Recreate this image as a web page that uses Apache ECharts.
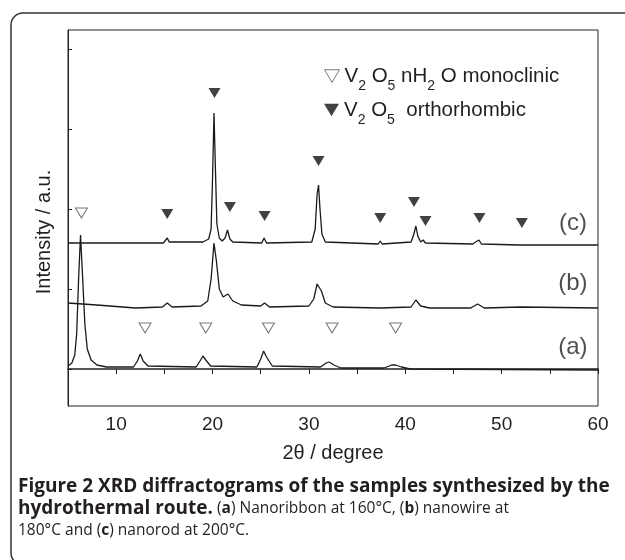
<!DOCTYPE html>
<html>
<head>
<meta charset="utf-8">
<script src="https://cdn.jsdelivr.net/npm/echarts@6.0.0/dist/echarts.min.js"></script>
<style>
  html, body { margin: 0; padding: 0; background: #fff; }
  #chart { width: 625px; height: 560px; }
</style>
</head>
<body>
<div id="chart"></div>
<script>
// XRD patterns, 2θ in degree, intensity in a.u. (each sample already stacked)
const xTickLabels = [10, 20, 30, 40, 50, 60];
const yTicks = [0, 80, 160, 240, 320];

// (c) nanorod 200°C
const cTheta = [5, 14.9, 15.1, 15.3, 15.5, 15.7, 19.0, 19.6, 19.85, 20.0, 20.15, 20.3, 20.45, 20.7, 21.0, 21.3, 21.55, 21.8, 22.1, 25.1, 25.35, 25.6, 30.3, 30.65, 30.85, 31.0, 31.15, 31.35, 31.7, 37.2, 37.4, 37.6, 40.6, 40.9, 41.1, 41.3, 41.6, 41.85, 42.1, 47.0, 47.3, 47.45, 47.65, 47.9, 51.9, 52.1, 52.3, 60];
const cInt = [126, 126, 127, 131, 127, 126, 127, 130, 140, 190, 256, 200, 145, 131, 128, 131, 139, 130, 127, 126, 131, 126, 127, 140, 175, 184, 160, 135, 127, 125, 128, 125, 127, 135, 143, 133, 127, 129, 126, 125, 127, 126, 129, 125, 124, 126, 124, 124];

// (b) nanowire 180°C
const bTheta = [5, 8, 12, 14.8, 15.3, 15.8, 18.8, 19.5, 19.85, 20.15, 20.4, 20.7, 21.1, 21.6, 22.1, 23, 25.0, 25.4, 25.9, 30.0, 30.5, 30.85, 31.05, 31.3, 31.7, 32.5, 37.4, 40.6, 41.1, 41.6, 42.5, 46.8, 47.5, 48.2, 52.0, 60];
const bInt = [66, 64, 61, 62, 66, 62, 63, 68, 90, 126, 108, 80, 72, 75, 68, 64, 63, 66, 62, 63, 70, 85, 87, 78, 66, 62, 61, 62, 69, 63, 61, 61, 65, 61, 62, 61];

// (a) nanoribbon 160°C
const aTheta = [5, 5.4, 5.7, 5.9, 6.1, 6.3, 6.5, 6.75, 7.0, 7.4, 8.0, 9, 11.8, 12.2, 12.5, 12.8, 13.3, 18.3, 18.7, 19.0, 19.3, 19.8, 24.6, 25.0, 25.3, 25.6, 26.2, 31.2, 31.8, 32.1, 32.6, 33.3, 37.8, 38.6, 39.0, 39.6, 40.5, 60];
const aInt = [3, 6, 14, 35, 90, 134, 95, 45, 20, 9, 4, 2, 2, 8, 15, 8, 3, 2, 8, 13, 9, 3, 2, 10, 18, 12, 3, 2, 6, 7, 4, 1, 1, 4, 4, 2, 0, -1];

// peak markers
const orthoTheta = [15.3, 20.2, 21.8, 25.4, 31.0, 37.4, 40.9, 42.1, 47.7, 52.1];
const orthoPos = [155, 276, 162, 153, 208, 151, 167, 148, 151, 146];
const monoTheta = [6.4, 13.0, 19.3, 25.8, 32.4, 39.0];
const monoPos = [156, 41, 41, 41, 41, 41];

const sampleNames = ['(a)', '(b)', '(c)'];
const sampleLabelPos = [22, 86, 146];

const FONT = '"Liberation Sans", Arial, Helvetica, sans-serif';
const CAP_FONT = '"Open Sans", "Noto Sans", sans-serif';
const INK = '#231f20';
const triDown = 'path://M0,0L12,0L6,10Z';

const zip = (xs, ys) => xs.map((x, i) => [x, ys[i]]);

function trace(name, xs, ys) {
  return {
    name: name,
    type: 'line',
    data: zip(xs, ys),
    showSymbol: false,
    symbol: 'none',
    silent: true,
    lineStyle: { color: '#1a1a1a', width: 1.3 },
    z: 2
  }
}

const legendRich = {
  m: { fontFamily: FONT, fontSize: 20.5, color: INK, lineHeight: 24 },
  s: { fontFamily: FONT, fontSize: 14, color: INK, lineHeight: 14, padding: [20, 0, 0, 0] }
};
const legendText = {
  mono: '{m|V}{s|2}{m| O}{s|5}{m| nH}{s|2}{m| O monoclinic}',
  ortho: '{m|V}{s|2}{m| O}{s|5}{m|  orthorhombic}'
};

function legendRow(name, top, itemStyle) {
  return {
    data: [{ name: name, icon: triDown, itemStyle: itemStyle }],
    left: 319, top: top,
    itemWidth: 15, itemHeight: 13,
    selectedMode: false,
    formatter: n => legendText[n],
    textStyle: { rich: legendRich }
  }
}

const chart = echarts.init(document.getElementById('chart'));

const option = {
  animation: false,
  backgroundColor: '#fff',
  grid: { left: 68, right: 27, top: 30, bottom: 154, show: true, borderColor: '#222', borderWidth: 1 },
  xAxis: {
    type: 'value', min: 5, max: 60, interval: 5,
    name: '2θ / degree', nameLocation: 'middle', nameGap: 37,
    nameTextStyle: { fontFamily: FONT, fontSize: 20, color: INK },
    axisLine: { lineStyle: { color: '#222', width: 1.5 } },
    axisTick: { length: 5, lineStyle: { color: '#222' } },
    axisLabel: {
      fontFamily: FONT, fontSize: 19, color: INK, margin: 9,
      formatter: v => xTickLabels.includes(v) ? String(v) : ''
    },
    splitLine: { show: false }
  },
  yAxis: {
    type: 'value', min: -37, max: 339,
    axisLine: { show: true, lineStyle: { color: '#222', width: 1 } },
    axisTick: { show: true, inside: true, length: 4, customValues: yTicks, lineStyle: { color: '#222' } },
    axisLabel: { show: false },
    splitLine: { show: false }
  },
  legend: [
    legendRow('mono', 54, { color: '#fff', borderColor: '#555', borderWidth: 1 }),
    legendRow('ortho', 88, { color: '#111' })
  ],
  series: [
    trace('a', aTheta, aInt),
    trace('b', bTheta, bInt),
    trace('c', cTheta, cInt),
    {
      name: 'ortho', type: 'scatter',
      data: zip(orthoTheta, orthoPos),
      symbol: 'triangle', symbolRotate: 180, symbolSize: [12, 10],
      itemStyle: { color: '#111' },
      silent: true, z: 3
    },
    {
      name: 'mono', type: 'scatter',
      data: zip(monoTheta, monoPos),
      symbol: 'triangle', symbolRotate: 180, symbolSize: [12, 10],
      itemStyle: { color: '#fff', borderColor: '#555', borderWidth: 1 },
      silent: true, z: 3
    },
    {
      name: 'labels', type: 'scatter',
      data: sampleNames.map((n, i) => ({ name: n, value: [57.4, sampleLabelPos[i]] })),
      symbolSize: 0,
      silent: true,
      label: { show: true, position: 'inside', formatter: '{b}', fontFamily: FONT, fontSize: 24, color: INK }
    }
  ],
  graphic: [
    {
      type: 'rect', silent: true, z: -1,
      shape: { x: 11, y: 13, width: 640, height: 552, r: 12 },
      style: { fill: 'none', stroke: '#333', lineWidth: 1.5 }
    },
    {
      type: 'text', silent: true,
      x: 44, y: 232, rotation: Math.PI / 2,
      style: { text: 'Intensity / a.u.', fontFamily: FONT, fontSize: 20, fill: INK, align: 'center', verticalAlign: 'middle' }
    },
    {
      type: 'text', silent: true,
      x: 18, y: 476,
      style: {
        text: '{B|Figure 2 XRD diffractograms of the samples synthesized by the}\n' +
              '{B|hydrothermal route.} ({b|a}) Nanoribbon at 160°C, ({b|b}) nanowire at\n' +
              '180°C and ({b|c}) nanorod at 200°C.',
        fontFamily: CAP_FONT, fontSize: 15.5, fill: INK, lineHeight: 22,
        rich: {
          B: { fontFamily: CAP_FONT, fontSize: 19, fontWeight: 'bold', fill: INK, lineHeight: 22 },
          b: { fontFamily: CAP_FONT, fontSize: 15.5, fontWeight: 'bold', fill: INK, lineHeight: 22 }
        }
      }
    }
  ]
};

chart.setOption(option);
</script>
</body>
</html>
